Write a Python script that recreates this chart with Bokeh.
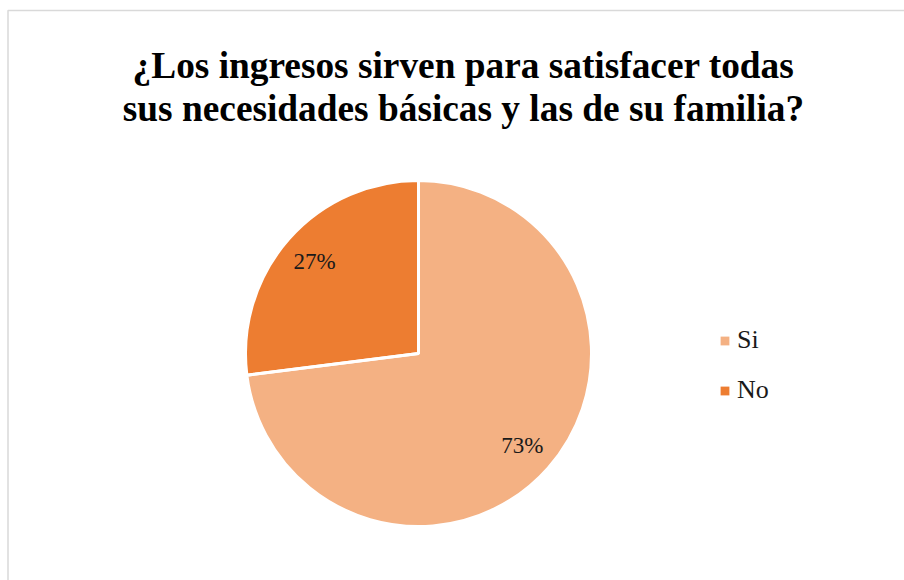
import math
from bokeh.plotting import figure
from bokeh.models import Range1d, Legend, LegendItem, ColumnDataSource, BoxAnnotation
from bokeh.core.properties import value
from bokeh.embed import file_html
from bokeh.resources import INLINE

# ---- data ----
title_lines = ["¿Los ingresos sirven para satisfacer todas",
               "sus necesidades básicas y las de su familia?"]
categories = ["Si", "No"]
values = [73, 27]
colors = ["#F4B183", "#ED7D31"]

FONT = "'Liberation Serif', 'Times New Roman', serif"

# ---- geometry ----
cx, cy, R = 418, 227, 173
total = sum(values)
starts, ends, mids = [], [], []
acc = 0.0
for v in values:
    a0 = math.pi / 2 - 2 * math.pi * acc / total
    acc += v
    a1 = math.pi / 2 - 2 * math.pi * acc / total
    starts.append(a0)
    ends.append(a1)
    mids.append((a0 + a1) / 2)

src = ColumnDataSource(dict(
    x=[cx] * len(values), y=[cy] * len(values),
    start=starts, end=ends, color=colors, cat=categories,
    lx=[cx + 0.8 * R * math.cos(m) for m in mids],
    ly=[cy + 0.8 * R * math.sin(m) for m in mids],
    lab=[f"{round(100 * v / total)}%" for v in values],
))

p = figure(width=904, height=580, output_backend="svg", toolbar_location=None,
           x_range=Range1d(0, 904), y_range=Range1d(0, 580),
           min_border=0)
p.axis.visible = False
p.grid.visible = False
p.outline_line_color = None
p.background_fill_color = "white"
p.border_fill_color = "white"

# chart-area border (right/bottom edges fall outside the visible page)
p.add_layout(BoxAnnotation(left=7.5, top=570, right=960, bottom=-60,
                           fill_alpha=0, line_color="#D9D9D9", line_alpha=1.0,
                           line_width=1.5))

fills = []
for i in range(len(values)):
    r = p.wedge(x=cx, y=cy, radius=R, start_angle=starts[i], end_angle=ends[i],
                direction="clock", fill_color=colors[i], line_color=None)
    fills.append(r)
p.wedge(x="x", y="y", radius=R, start_angle="start", end_angle="end",
        direction="clock", fill_color=None, line_color="white", line_width=3,
        source=src)

p.text(x="lx", y="ly", text="lab", source=src, text_align="center",
       text_baseline="middle", text_font=value(FONT),
       text_font_size="23px", text_color="#1a1a1a")

# title
tsrc = ColumnDataSource(dict(x=[463, 463], y=[515, 472], t=title_lines))
p.text(x="x", y="y", text="t", source=tsrc, text_align="center",
       text_baseline="alphabetic", text_font=value(FONT),
       text_font_style="bold", text_font_size="37.33px", text_color="#000000")

legend = Legend(items=[LegendItem(label=categories[i], renderers=[fills[i]])
                       for i in range(len(values))],
                location=(719, 175), orientation="vertical",
                glyph_width=11, glyph_height=11, label_standoff=7,
                label_height=30, spacing=20, padding=0, margin=0,
                label_text_font=FONT, label_text_font_size="26px",
                label_text_color="#1a1a1a", border_line_color=None,
                background_fill_alpha=0)
p.add_layout(legend)

open("out.html", "w").write(file_html(p, INLINE))
